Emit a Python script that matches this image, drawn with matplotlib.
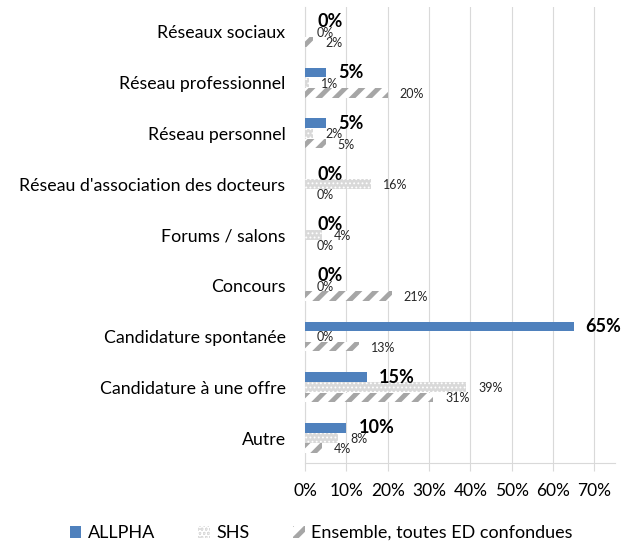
import matplotlib
matplotlib.use('Agg')
import matplotlib.pyplot as plt
import matplotlib.ticker as mtick
from matplotlib.patches import Patch

plt.rcParams['font.family'] = ['Lato', 'DejaVu Sans']

categories = ['Réseaux sociaux', 'Réseau professionnel', 'Réseau personnel',
              "Réseau d'association des docteurs", 'Forums / salons', 'Concours',
              'Candidature spontanée', 'Candidature à une offre', 'Autre']
allpha = [0, 5, 5, 0, 0, 0, 65, 15, 10]
shs = [0, 1, 2, 16, 4, 0, 0, 39, 8]
ensemble = [2, 20, 5, 0, 0, 21, 13, 31, 4]
series_names = ['ALLPHA', 'SHS', 'Ensemble, toutes ED confondues']

blue = '#4F81BD'
light = '#D9D9D9'
grey = '#A6A6A6'

fig = plt.figure(figsize=(6.36, 5.42), dpi=100)
ax = fig.add_axes([0.4796, 0.145, 0.4874, 0.843])

y = list(range(len(categories)))
h = 0.19
ya = [v - 0.2 for v in y]
ye = [v + 0.2 for v in y]

ax.barh(ya, [v / 100 for v in allpha], height=h, color=blue, zorder=3)
plt.rcParams['hatch.linewidth'] = 0.8
ax.barh(y, [v / 100 for v in shs], height=h, color=light, hatch='....',
        edgecolor='white', linewidth=0, zorder=3)
shs_patch = Patch(facecolor=light, hatch='....', edgecolor='white', linewidth=0)
plt.rcParams['hatch.linewidth'] = 3.5
ax.barh(ye, [v / 100 for v in ensemble], height=h, color='white', hatch='//',
        edgecolor=grey, linewidth=0, zorder=3)
ens_patch = Patch(facecolor='white', hatch='//', edgecolor=grey, linewidth=0)

for i in range(len(categories)):
    ax.annotate(f'{allpha[i]}%', (allpha[i] / 100, ya[i]), xytext=(12, 0),
                textcoords='offset pixels', va='center', ha='left',
                fontsize=13, fontweight='bold', color='black', zorder=5)
    ax.annotate(f'{shs[i]}%', (shs[i] / 100, y[i]), xytext=(12, -1),
                textcoords='offset pixels', va='center', ha='left',
                fontsize=9, color='#262626', zorder=5)
    ax.annotate(f'{ensemble[i]}%', (ensemble[i] / 100, ye[i]), xytext=(12, -1),
                textcoords='offset pixels', va='center', ha='left',
                fontsize=9, color='#262626', zorder=5)

ax.set_ylim(len(categories) - 0.5, -0.5)
ax.set_yticks(y)
ax.set_yticklabels(categories, fontsize=12.8)
ax.set_xlim(0, 0.75)
ax.set_xticks([i / 10 for i in range(8)])
ax.xaxis.set_major_formatter(mtick.PercentFormatter(1.0, decimals=0))
ax.tick_params(axis='x', labelsize=12.5, length=6, color='#D9D9D9', pad=8)
ax.tick_params(axis='y', length=0, pad=14)
ax.grid(axis='x', color='#D9D9D9', linewidth=0.8, zorder=0)

for s in ['top', 'right']:
    ax.spines[s].set_visible(False)
ax.spines['bottom'].set_color('#D9D9D9')
ax.spines['left'].set_color('#D9D9D9')

handles = [Patch(facecolor=blue), shs_patch, ens_patch]
fig.legend(handles, series_names, loc='lower center', bbox_to_anchor=(0.505, -0.028),
           ncol=3, frameon=False, fontsize=13, handlelength=0.65, handleheight=0.65,
           handletextpad=0.35, columnspacing=2.4)

fig.savefig('out.png', dpi=100)
